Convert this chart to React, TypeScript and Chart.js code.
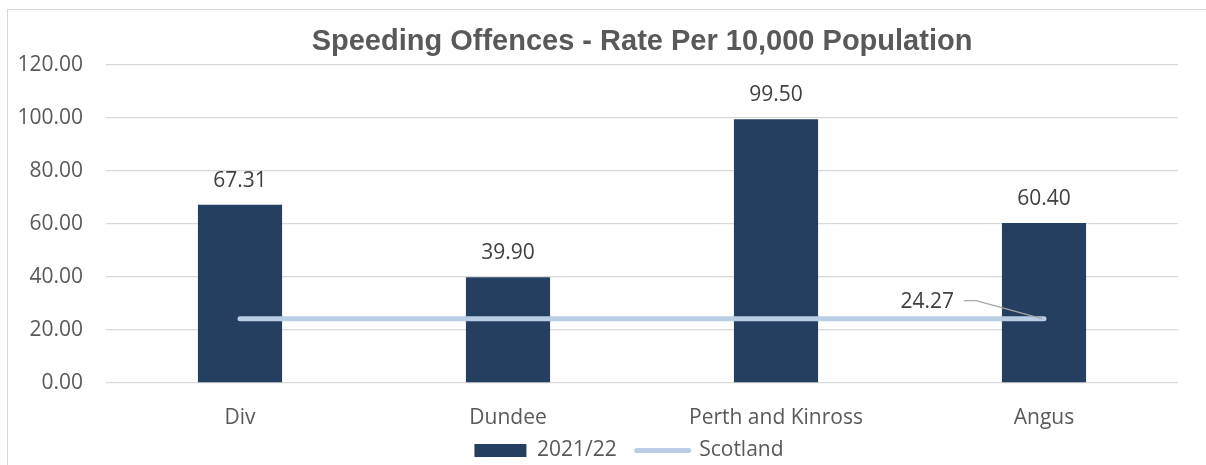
import React, { useEffect, useRef } from "react";
import { Chart, registerables } from "chart.js";

Chart.register(...registerables);

const categories = ["Div", "Dundee", "Perth and Kinross", "Angus"];
const rates2021 = [67.31, 39.9, 99.5, 60.4];
const scotlandRate = [24.27, 24.27, 24.27, 24.27];
const seriesNames = ["2021/22", "Scotland"];
const chartTitle = "Speeding Offences - Rate Per 10,000 Population";
const yMin = 0;
const yMax = 120;
const yStep = 20;

const BAR_COLOR = "#243F60";
const LINE_COLOR = "#B9CDE5";
const GRID_COLOR = "#D9D9D9";
const TEXT_COLOR = "#595959";
const LABEL_COLOR = "#404040";
const TICK_FONT = "'Open Sans', sans-serif";

const decorPlugin = {
  id: "decor",
  beforeDraw(chart: any) {
    const { ctx, width, height } = chart;
    ctx.save();
    ctx.fillStyle = "#FFFFFF";
    ctx.fillRect(0, 0, width, height);
    ctx.strokeStyle = GRID_COLOR;
    ctx.lineWidth = 1;
    ctx.strokeRect(7.5, 9.5, width + 10, height + 10);
    ctx.restore();
  },
  afterLayout(chart: any) {
    const lg = chart.legend;
    if (lg) {
      lg.left -= 13;
      lg.right -= 13;
      lg.top -= 13;
      lg.bottom -= 13;
    }
  },
  afterDatasetsDraw(chart: any) {
    const { ctx } = chart;
    ctx.save();
    const barMeta = chart.getDatasetMeta(0);
    ctx.font = `21px ${TICK_FONT}`;
    ctx.fillStyle = LABEL_COLOR;
    ctx.textAlign = "center";
    ctx.textBaseline = "alphabetic";
    barMeta.data.forEach((el: any, i: number) => {
      ctx.fillText(rates2021[i].toFixed(2), el.x, el.y - 18);
    });
    const lineMeta = chart.getDatasetMeta(1);
    const last = lineMeta.data[lineMeta.data.length - 1];
    if (last) {
      const px = last.x;
      const py = last.y;
      ctx.strokeStyle = "#A6A6A6";
      ctx.lineWidth = 1.3;
      ctx.beginPath();
      ctx.moveTo(px - 80, py - 18);
      ctx.lineTo(px - 68, py - 18);
      ctx.lineTo(px - 2, py);
      ctx.stroke();
      ctx.textAlign = "right";
      ctx.fillText(
        scotlandRate[scotlandRate.length - 1].toFixed(2),
        px - 90,
        py - 11
      );
    }
    ctx.restore();
  },
};

export default function App() {
  const ref = useRef<HTMLCanvasElement | null>(null);

  useEffect(() => {
    if (!ref.current) return;
    const chart = new Chart(ref.current, {
      type: "bar",
      data: {
        labels: categories,
        datasets: [
          {
            type: "bar",
            label: seriesNames[0],
            data: rates2021,
            backgroundColor: BAR_COLOR,
            borderWidth: 0,
            barPercentage: 0.314,
            categoryPercentage: 1,
            order: 1,
          },
          {
            type: "line",
            label: seriesNames[1],
            data: scotlandRate,
            borderColor: LINE_COLOR,
            backgroundColor: LINE_COLOR,
            borderWidth: 5,
            borderCapStyle: "round",
            pointRadius: 0,
            fill: false,
            order: 0,
          },
        ],
      } as any,
      options: {
        responsive: false,
        animation: false,
        layout: { padding: { left: 0, right: 28, top: 0, bottom: -19 } },
        scales: {
          x: {
            grid: { display: false },
            border: { display: false },
            ticks: {
              color: TEXT_COLOR,
              font: { family: TICK_FONT, size: 21 },
              padding: 14,
            },
            afterFit(scale: any) {
              scale.height = 50;
            },
          },
          y: {
            min: yMin,
            max: yMax,
            grid: { color: GRID_COLOR, lineWidth: 1.3, drawTicks: false },
            border: { display: false },
            ticks: {
              stepSize: yStep,
              color: TEXT_COLOR,
              font: { family: TICK_FONT, size: 21 },
              padding: 23,
              callback: (v: any) => Number(v).toFixed(2),
            },
            afterFit(scale: any) {
              scale.width = 106;
            },
          },
        },
        plugins: {
          title: {
            display: true,
            text: chartTitle,
            fullSize: false,
            color: TEXT_COLOR,
            font: { family: "'Liberation Sans', Arial, sans-serif", size: 29, weight: "bold" },
            padding: { top: 24.6, bottom: 5.6 },
          },
          legend: {
            display: true,
            position: "bottom",
            fullSize: false,
            labels: {
              usePointStyle: true,
              pointStyleWidth: 52,
              boxHeight: 13,
              padding: 20,
              color: TEXT_COLOR,
              font: { family: TICK_FONT, size: 21 },
              generateLabels: () => [
                {
                  text: seriesNames[0],
                  fillStyle: BAR_COLOR,
                  strokeStyle: BAR_COLOR,
                  lineWidth: 0,
                  pointStyle: "rect",
                  datasetIndex: 0,
                  hidden: false,
                  fontColor: TEXT_COLOR,
                },
                {
                  text: seriesNames[1],
                  fillStyle: LINE_COLOR,
                  strokeStyle: LINE_COLOR,
                  lineWidth: 5,
                  lineCap: "round",
                  pointStyle: "line",
                  datasetIndex: 1,
                  hidden: false,
                  fontColor: TEXT_COLOR,
                },
              ],
            },
          },
          tooltip: { enabled: false },
        },
      } as any,
      plugins: [decorPlugin],
    });
    return () => chart.destroy();
  }, []);

  return (
    <div style={{ position: "absolute", left: 0, top: 0, width: 1206, height: 465 }}>
      <canvas ref={ref} width={1206} height={465} style={{ display: "block" }} />
    </div>
  );
}
